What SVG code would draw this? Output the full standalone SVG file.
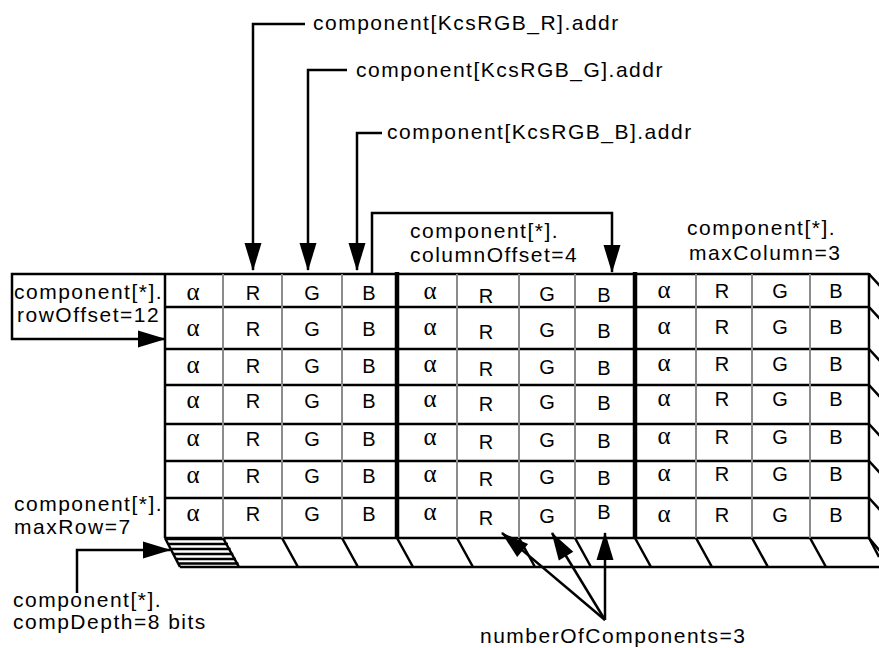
<svg xmlns="http://www.w3.org/2000/svg" width="879" height="648" viewBox="0 0 879 648">
<style>
.lbl{font-family:"Liberation Sans",Arial,Helvetica,sans-serif;font-size:21px;letter-spacing:1.5px;fill:#000}
.c{font-family:"Liberation Sans",Arial,Helvetica,sans-serif;font-size:20px;text-anchor:middle;fill:#000}
.a{font-family:"Liberation Serif","Times New Roman",serif;font-size:25px;text-anchor:middle;fill:#000}
.hl{stroke:#000;stroke-width:2.5;fill:none}
.vg{stroke:#8c8c8c;stroke-width:2;fill:none}
.vb{stroke:#000;stroke-width:4.5;fill:none}
.cn{stroke:#000;stroke-width:2.5;fill:none;marker-end:url(#ah)}
</style>
<defs>
<marker id="ah" markerUnits="userSpaceOnUse" markerWidth="28" markerHeight="17" refX="27" refY="8.5" orient="auto" viewBox="0 0 28 17" overflow="visible">
<path d="M0,0L28,8.5L0,17z" fill="#000"/>
</marker>
</defs>
<rect width="879" height="648" fill="#fff"/>

<g id="grid">
<g id="hatch">
<path class="hl" d="M165.5,539H225.5M168,544H228M170.6,549H230.6M173.2,554H233.2M175.8,559H235.8M178.4,563.5H238.4"/>
</g>
<path class="hl" d="M165,274H869M165,307H869M165,349H869M165,385H869M165,424H869M165,461H869M165,498H869M165,538H869"/>
<path class="vg" d="M223,274V538M282,274V538M342,274V538M457,274V538M519,274V538M575,274V538M696,274V538M752,274V538M810,274V538"/>
<path class="hl" d="M165,273V538M869,273V538"/>
<path class="vb" d="M397,272V538M635,272V538"/>
<path class="hl" d="M869,274L880,286M869,307L880,319M869,349L880,361M869,385L880,397M869,424L880,436M869,461L880,473M869,498L880,510M869,538L880,551"/>
<path class="hl" d="M180,567H879M165,538L180,567M223,538L239,567M282,538L298,567M342,538L358,567M397,538L413,567M457,538L473,567M519,538L535,567M575,538L591,567M635,538L651,567M696,538L712,567M752,538L768,567M810,538L826,567M869,538L879,557"/>
</g>

<g id="cells">
<text class="a" x="193" y="300">α</text><text class="c" x="253" y="300">R</text><text class="c" x="312" y="300">G</text><text class="c" x="369" y="300">B</text>
<text class="a" x="430" y="299">α</text><text class="c" x="486" y="303">R</text><text class="c" x="547" y="301">G</text><text class="c" x="604" y="302">B</text>
<text class="a" x="664" y="298">α</text><text class="c" x="722" y="298">R</text><text class="c" x="780" y="298">G</text><text class="c" x="836" y="298">B</text>

<text class="a" x="193" y="336">α</text><text class="c" x="253" y="336">R</text><text class="c" x="312" y="336">G</text><text class="c" x="369" y="336">B</text>
<text class="a" x="430" y="335">α</text><text class="c" x="486" y="339">R</text><text class="c" x="547" y="337">G</text><text class="c" x="604" y="338">B</text>
<text class="a" x="664" y="334">α</text><text class="c" x="722" y="334">R</text><text class="c" x="780" y="334">G</text><text class="c" x="836" y="334">B</text>

<text class="a" x="193" y="373">α</text><text class="c" x="253" y="373">R</text><text class="c" x="312" y="373">G</text><text class="c" x="369" y="373">B</text>
<text class="a" x="430" y="372">α</text><text class="c" x="486" y="376">R</text><text class="c" x="547" y="374">G</text><text class="c" x="604" y="375">B</text>
<text class="a" x="664" y="371">α</text><text class="c" x="722" y="371">R</text><text class="c" x="780" y="371">G</text><text class="c" x="836" y="371">B</text>

<text class="a" x="193" y="408">α</text><text class="c" x="253" y="408">R</text><text class="c" x="312" y="408">G</text><text class="c" x="369" y="408">B</text>
<text class="a" x="430" y="407">α</text><text class="c" x="486" y="411">R</text><text class="c" x="547" y="409">G</text><text class="c" x="604" y="410">B</text>
<text class="a" x="664" y="406">α</text><text class="c" x="722" y="406">R</text><text class="c" x="780" y="406">G</text><text class="c" x="836" y="406">B</text>

<text class="a" x="193" y="446">α</text><text class="c" x="253" y="446">R</text><text class="c" x="312" y="446">G</text><text class="c" x="369" y="446">B</text>
<text class="a" x="430" y="445">α</text><text class="c" x="486" y="449">R</text><text class="c" x="547" y="447">G</text><text class="c" x="604" y="448">B</text>
<text class="a" x="664" y="444">α</text><text class="c" x="722" y="444">R</text><text class="c" x="780" y="444">G</text><text class="c" x="836" y="444">B</text>

<text class="a" x="193" y="483">α</text><text class="c" x="253" y="483">R</text><text class="c" x="312" y="483">G</text><text class="c" x="369" y="483">B</text>
<text class="a" x="430" y="482">α</text><text class="c" x="486" y="486">R</text><text class="c" x="547" y="484">G</text><text class="c" x="604" y="485">B</text>
<text class="a" x="664" y="481">α</text><text class="c" x="722" y="481">R</text><text class="c" x="780" y="481">G</text><text class="c" x="836" y="481">B</text>

<text class="a" x="193" y="521">α</text><text class="c" x="253" y="521">R</text><text class="c" x="312" y="521">G</text><text class="c" x="369" y="521">B</text>
<text class="a" x="430" y="520">α</text><text class="c" x="486" y="525">R</text><text class="c" x="547" y="523">G</text><text class="c" x="604" y="519">B</text>
<text class="a" x="664" y="522">α</text><text class="c" x="722" y="522">R</text><text class="c" x="780" y="522">G</text><text class="c" x="836" y="522">B</text>
</g>

<g id="connectors">
<path class="cn" d="M305,24H253V270"/>
<path class="cn" d="M347,70H308V270"/>
<path class="cn" d="M382,133H357V270"/>
<path class="cn" d="M372,274V213H612V272"/>
<path class="cn" d="M165,274H12V339H165"/>
<path class="cn" d="M77,593V550H170"/>
<path class="cn" d="M605,620L502,533"/>
<path class="cn" d="M605,620L552,533"/>
<path class="cn" d="M605,620V533"/>
</g>

<g id="label-r"><text class="lbl" x="313" y="30">component[KcsRGB_R].addr</text></g>
<g id="label-g"><text class="lbl" x="356" y="77">component[KcsRGB_G].addr</text></g>
<g id="label-b"><text class="lbl" x="387" y="139">component[KcsRGB_B].addr</text></g>
<g id="label-columnoffset"><text class="lbl" x="410" y="238">component[*].</text><text class="lbl" x="410" y="262">columnOffset=4</text></g>
<g id="label-maxcolumn"><text class="lbl" x="687" y="235">component[*].</text><text class="lbl" x="689" y="260">maxColumn=3</text></g>
<g id="label-rowoffset"><text class="lbl" x="14" y="299">component[*].</text><text class="lbl" x="17" y="322">rowOffset=12</text></g>
<g id="label-maxrow"><text class="lbl" x="14" y="511">component[*].</text><text class="lbl" x="14" y="534">maxRow=7</text></g>
<g id="label-compdepth"><text class="lbl" x="13" y="607">component[*].</text><text class="lbl" x="13" y="629">compDepth=8 bits</text></g>
<g id="label-numcomp"><text class="lbl" x="480" y="643">numberOfComponents=3</text></g>
</svg>
